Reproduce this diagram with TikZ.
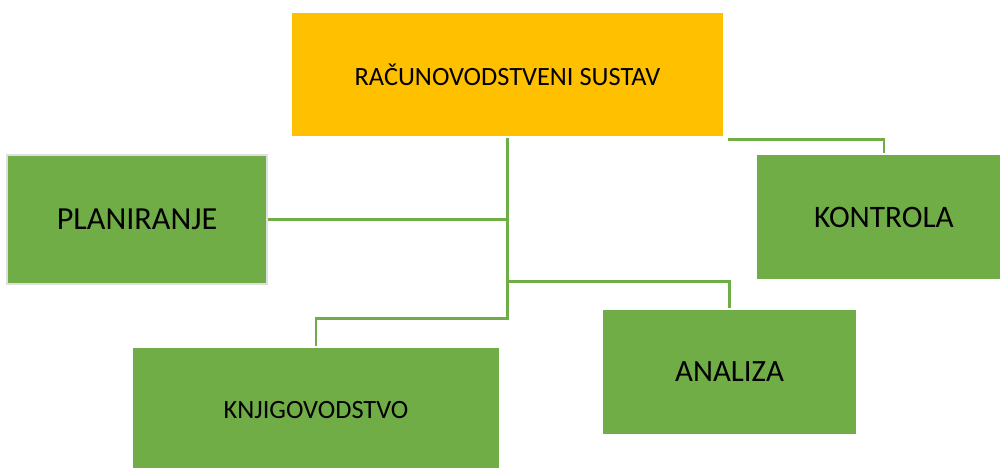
\documentclass[tikz,border=0pt]{standalone}
\usepackage{fontspec}
\setmainfont{Carlito}
\usepackage{tikz}
\usetikzlibrary{calc}
\definecolor{boxgreen}{HTML}{70AD47}
\definecolor{boxorange}{HTML}{FFC000}
\tikzset{
    box/.style={rectangle, fill=boxgreen, draw=white, line width=0.6pt, minimum height=2.52cm, inner sep=0pt},
    link/.style={draw=boxgreen, line width=1.4pt}
}

\begin{document}
\begin{tikzpicture}
                    \useasboundingbox (0,0) rectangle (20,-9.36);
                    \node[box, fill=boxorange, minimum width=8.66cm, minimum height=2.5cm, font=\fontsize{15}{18}\selectfont] (sustav) at (10.15,-1.49) {RAČUNOVODSTVENI SUSTAV};
                    \node[box, draw=gray!25, line width=1.2pt, minimum width=5.2cm, minimum height=2.58cm, font=\fontsize{18.3}{22}\selectfont] (plan) at (2.74,-4.39) {PLANIRANJE};
                    \node[box, minimum width=5.12cm, font=\fontsize{17.8}{21}\selectfont] (kontrola) at (17.68,-4.34) {KONTROLA};
                    \node[box, minimum width=5.1cm, font=\fontsize{17.6}{21}\selectfont] (analiza) at (14.59,-7.44) {ANALIZA};
                    \node[box, minimum width=7.36cm, font=\fontsize{15}{18}\selectfont] (knjig) at (6.32,-8.2) {KNJIGOVODSTVO};
                    \coordinate (trunk) at ($(sustav.south)+(0,-3.62)$);
                    \coordinate (split) at ($(sustav.south)+(0,-2.88)$);
                    \coordinate (right) at ($(sustav.south east)+(0.06,-0.04)$);
                    \draw[link] (sustav.south) -- (trunk) -| (knjig.north);
                    \draw[link] (plan.east) -- (plan.east -| sustav.south);
                    \draw[link] (split) -| (analiza.north);
                    \draw[link] (right) -| (kontrola.north);
               \end{tikzpicture}
\end{document}
